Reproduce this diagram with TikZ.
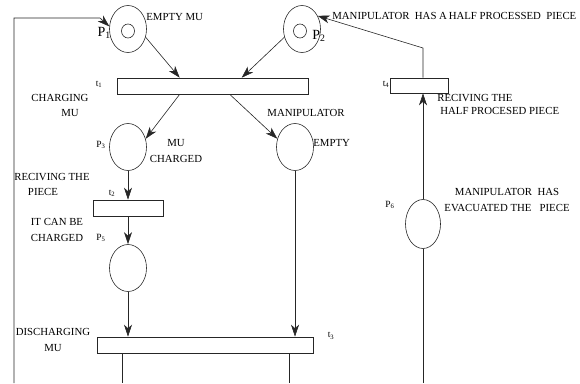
\documentclass[tikz,border=0pt]{standalone}
\usepackage{fontspec}
\setmainfont{Liberation Serif}
\usetikzlibrary{shapes.geometric,arrows.meta}

\begin{document}
\begin{tikzpicture} [ x=1pt, y=-1pt,
    line width=0.6pt, draw=black!85,
    place/.style={ellipse, draw, minimum width=37pt, minimum height=47pt, inner sep=0pt},
    trans/.style={rectangle, draw, minimum height=16pt, inner sep=0pt},
    token/.style={ellipse, draw, minimum width=13pt, minimum height=14pt, inner sep=0pt},
    lbl/.style={font=\fontsize{10.8}{15.5}\selectfont, inner sep=0pt, align=center},
    idx/.style={font=\fontsize{9.5}{10}\selectfont, inner sep=0pt},
    pbig/.style={font=\fontsize{14}{16}\selectfont, inner sep=0pt},
    flow/.style={-{Stealth[length=12pt,width=8pt,inset=3.5pt]}},
  ]
    \useasboundingbox (0,0) rectangle (580,383);

    \node[place] (P1) at (128,29) {};
    \node[token] (k1) at (128,31) {};
    \node[place] (P2) at (302,29) {};
    \node[token] (k2) at (300,31) {};
    \node[place] (P3) at (128,147) {};
    \node[place] (pe) at (295,147) {};
    \node[place] (P5) at (128,268) {};
    \node[place, minimum width=35pt, minimum height=49pt] (P6) at (423,224) {};

    \node[trans, minimum width=191pt] (t1) at (212.5,86) {};
    \node[trans, minimum width=70pt] (t2) at (128,208) {};
    \node[trans, minimum width=216pt] (t3) at (205,345) {};
    \node[trans, minimum width=58pt, minimum height=15pt] (t4) at (419,85.5) {};

    \coordinate (in1) at (14,383);
    \coordinate (bend1) at (100,18);
    \coordinate (out1) at (122,383);
    \coordinate (out2) at (289,383);
    \coordinate (out3) at (423,383);
    \coordinate (knee) at (423,48);

    \draw[flow] (in1) |- (bend1) -- (P1.172);
    \draw[flow] (P1.-25) -- ([xshift=63pt]t1.north west);
    \draw[flow] (P2.205) -- ([xshift=125pt]t1.north west);
    \draw[flow] ([xshift=63pt]t1.south west) -- (P3.25);
    \draw[flow] ([xshift=113pt]t1.south west) -- (pe.155);
    \draw[flow] (P3) -- (P3 |- t2.north);
    \draw[flow] (t2) -- (P5);
    \draw[flow] (P5) -- (P5 |- t3.north);
    \draw[flow] (pe) -- (pe |- t3.north);
    \draw (t3.south -| out1) -- (out1)
    (t3.south -| out2) -- (out2);
    \draw (out3) -- (P6);
    \draw[flow] (P6) -- (P6 |- t4.south);
    \draw[flow] (t4.north -| knee) -- (knee) -- (P2.40);

    \node[pbig, anchor=east] (lp1) at (111,33) {P\textsubscript{1}};
    \node[pbig, anchor=west] (lp2) at (312,36) {P\textsubscript{2}};
    \node[idx] (lp3) at (101,145) {P\textsubscript{3}};
    \node[idx] (lp5) at (101,238) {P\textsubscript{5}};
    \node[idx] (lp6) at (390,205) {P\textsubscript{6}};
    \node[idx] (lt1) at (99,84) {t\textsubscript{1}};
    \node[idx] (lt2) at (112,193) {t\textsubscript{2}};
    \node[idx] (lt3) at (331,336) {t\textsubscript{3}};
    \node[idx] (lt4) at (386,84) {t\textsubscript{4}};

    \node[lbl, anchor=west] (n1) at (146,17) {EMPTY MU};
    \node[lbl, anchor=west] (n2) at (332,16) {MANIPULATOR~ HAS A\,HALF PROCESSED~ PIECE};
    \node[lbl] (n3) at (60,98) {CHARGING};
    \node[lbl] (n4) at (70,113) {MU};
    \node[lbl] (n5) at (306,113) {MANIPULATOR};
    \node[lbl] (n6) at (176,151) {MU\\CHARGED};
    \node[lbl, anchor=west] (n7) at (313,143) {EMPTY};
    \node[lbl] (n8) at (52,177) {RECIVING THE};
    \node[lbl] (n9) at (43,192) {PIECE};
    \node[lbl] (n10) at (57,230) {IT CAN BE\\CHARGED};
    \node[lbl] (n11) at (53,340) {DISCHARGING\\MU};
    \node[lbl, anchor=west] (n12) at (437,98) {RECIVING THE};
    \node[lbl, anchor=west] (n13) at (440,111) {HALF PROCESED PIECE};
    \node[lbl] (n14) at (507,200) {MANIPULATOR~ HAS\\EVACUATED THE~~ PIECE};

\end{tikzpicture}
\end{document}
